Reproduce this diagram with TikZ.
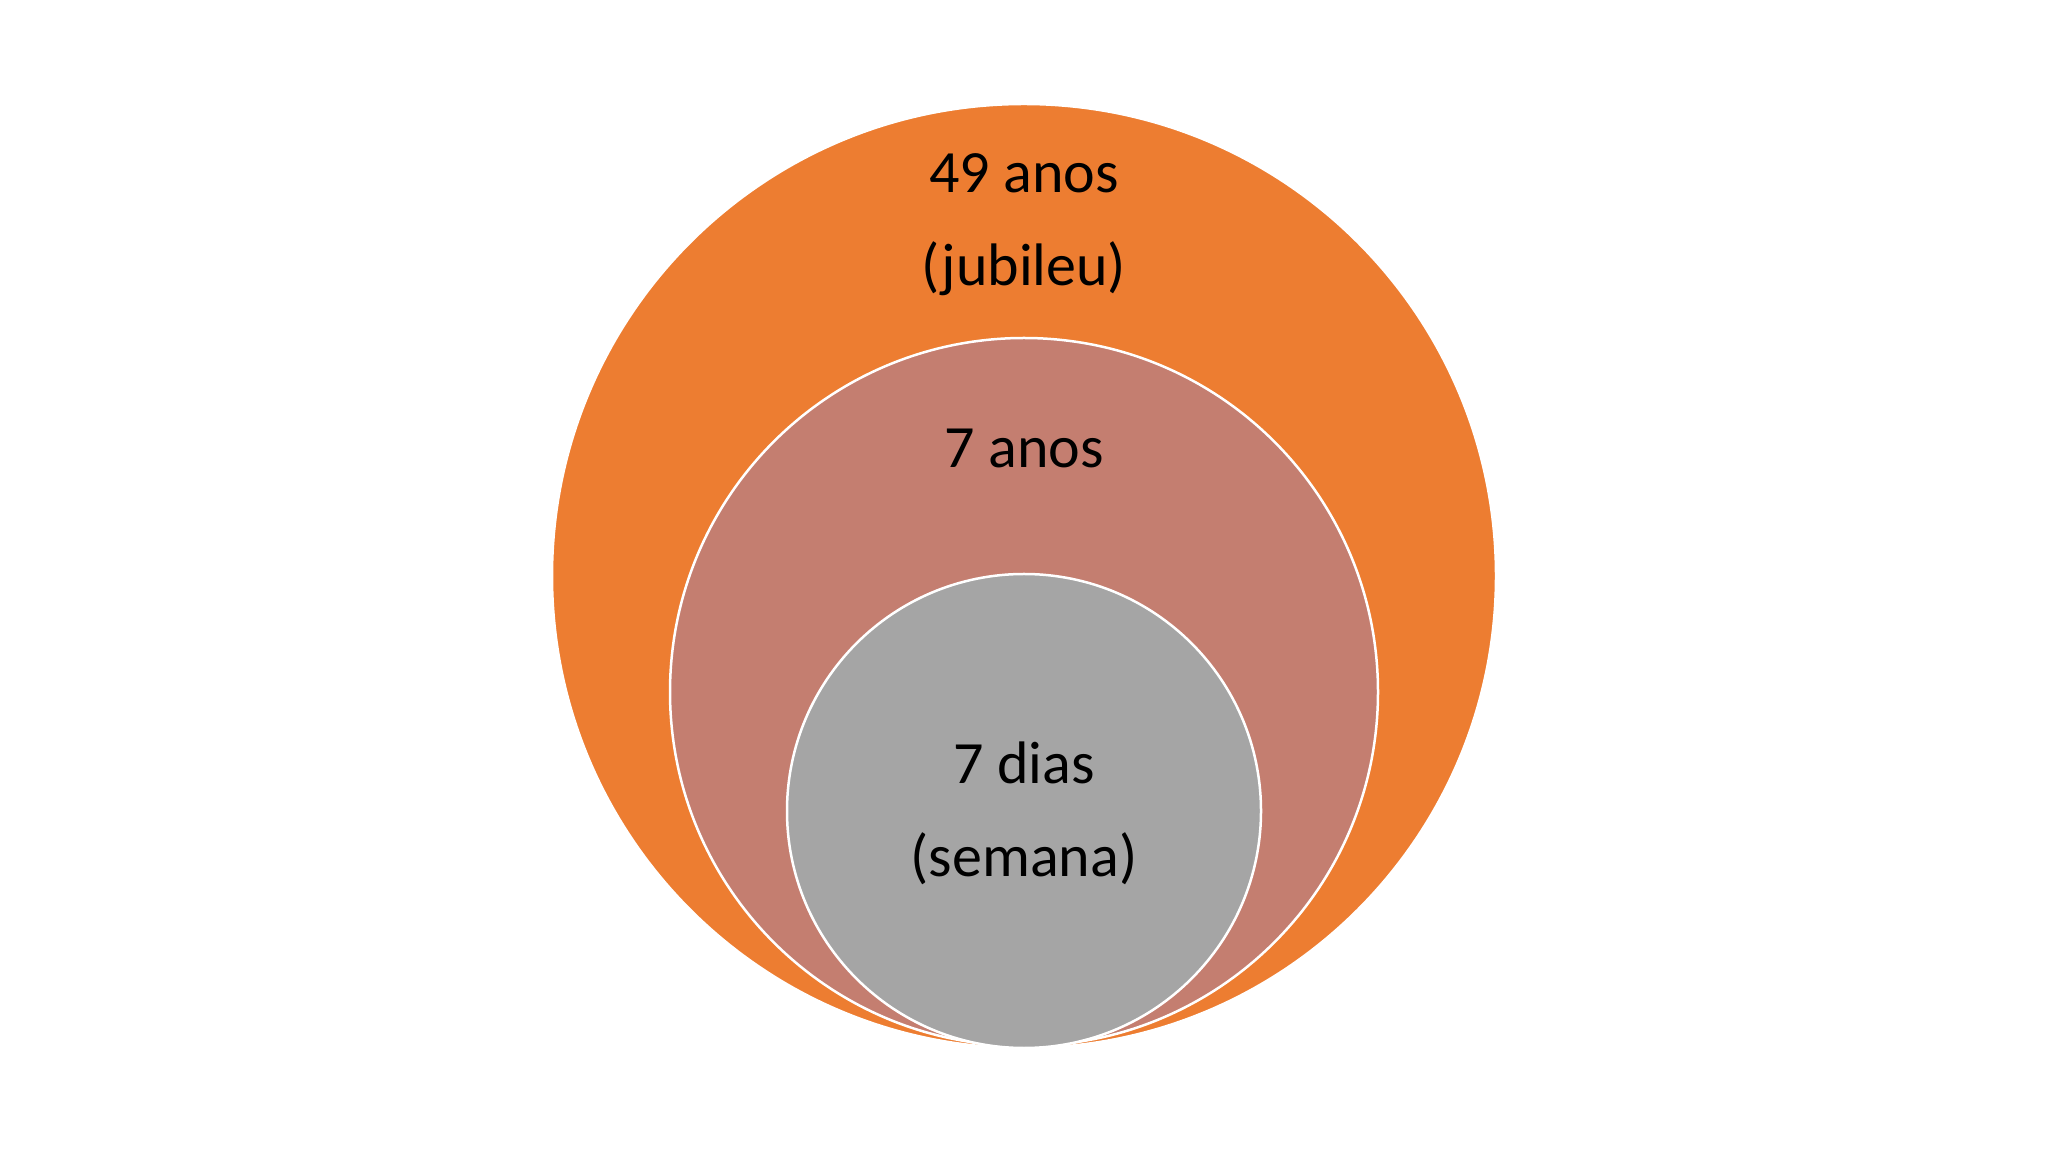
\documentclass[tikz,border=0pt]{standalone}
\usepackage{fontspec}
\setmainfont{Carlito}
\usepackage{tikz}
\definecolor{jubOrange}{HTML}{ED7D31}
\definecolor{anoRose}{HTML}{C47E70}
\definecolor{semGray}{HTML}{A5A5A5}

\begin{document}
\begin{tikzpicture}[
  x=1pt, y=1pt,
  ring/.style={draw=white, line width=2.5pt},
  lbl/.style={align=center, inner sep=0pt, font=\fontsize{60}{93}\selectfont}
]
  \useasboundingbox[fill=white] (0,0) rectangle (2048,1152);

  % nested circles, all touching at the bottom
  \draw[ring, fill=jubOrange] (1024,576) circle (472);
  \draw[ring, fill=anoRose] (1024,460) circle (354);
  \draw[ring, fill=semGray] (1024,341) circle (237);

  \node[lbl] (jubileu) at (1024,927) {49 anos\\(jubileu)};
  \node[lbl] (anos) at (1024,704) {7 anos};
  \node[lbl] (semana) at (1024,339) {7 dias\\(semana)};
\end{tikzpicture}
\end{document}
